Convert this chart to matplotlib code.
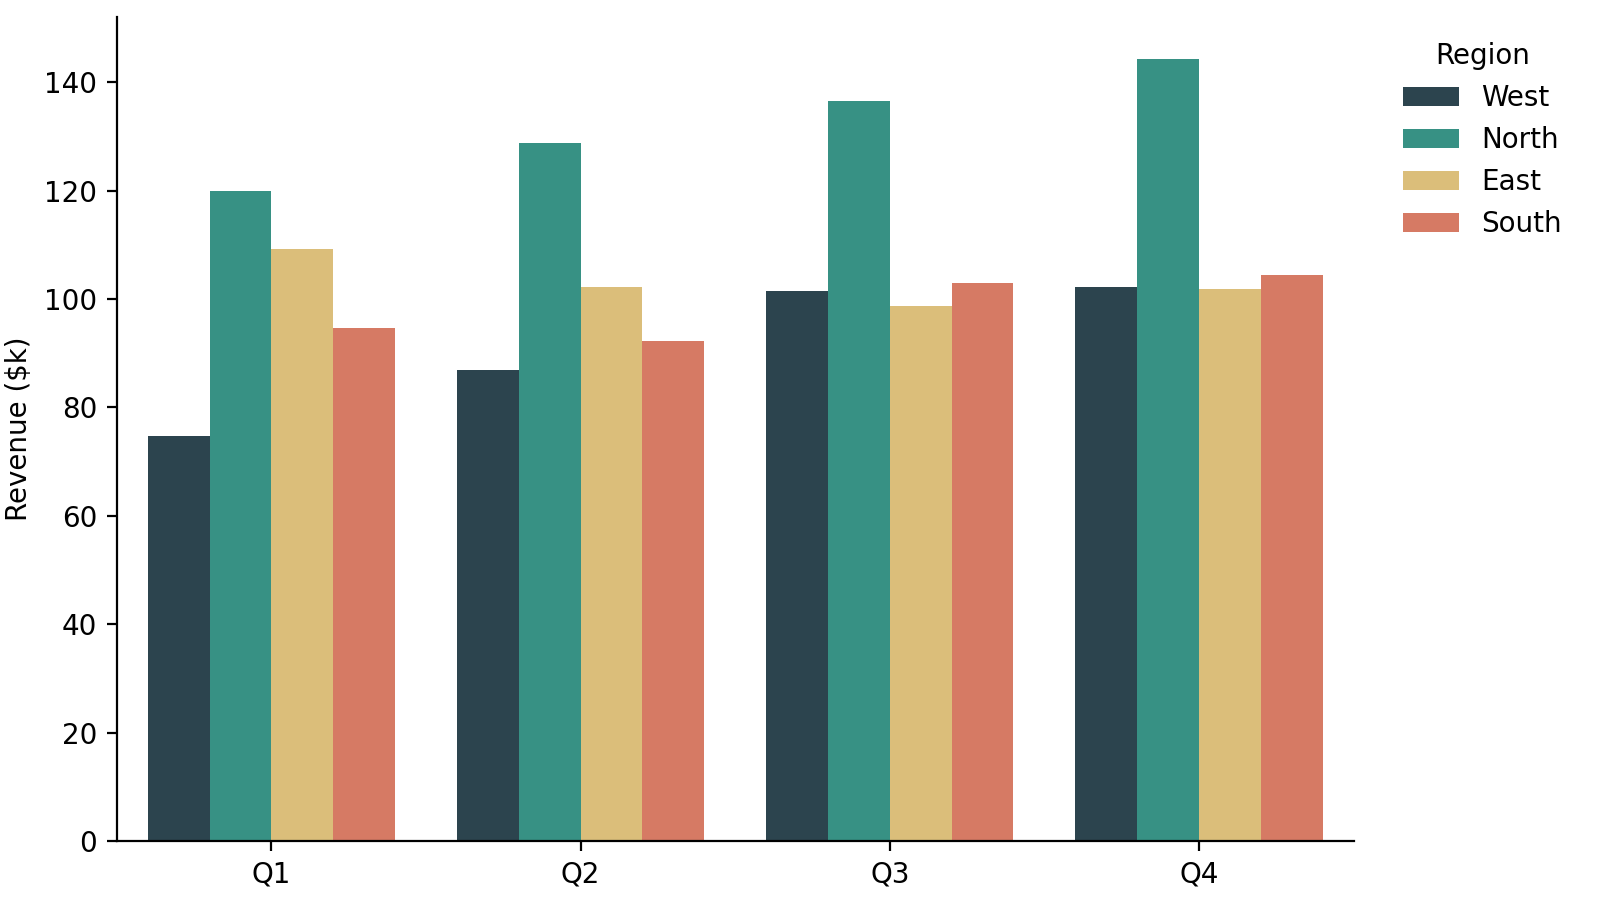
import numpy as np
import matplotlib
matplotlib.use("Agg")
import matplotlib.pyplot as plt

quarters = ["Q1", "Q2", "Q3", "Q4"]
regions = ["West", "North", "East", "South"]
west = [74.8, 86.9, 101.5, 102.2]
north = [119.9, 128.9, 136.5, 144.4]
east = [109.2, 102.2, 98.7, 101.8]
south = [94.7, 92.3, 102.9, 104.4]
colors = ["#2c444e", "#379184", "#dbbe7a", "#d67a64"]

fig = plt.figure(figsize=(8, 4.59), dpi=200)
ax = fig.add_axes([0.073, 0.084, 0.773, 0.897])

x = np.arange(len(quarters))
w = 0.2
for i, (name, vals) in enumerate(zip(regions, [west, north, east, south])):
    ax.bar(x + (i - 1.5) * w, vals, w, color=colors[i], label=name)

ax.set_xticks(x)
ax.set_xticklabels(quarters)
ax.set_ylabel("Revenue ($k)")
ax.set_xlim(-0.5, 3.5)
ax.set_ylim(0, 152)
ax.spines["top"].set_visible(False)
ax.spines["right"].set_visible(False)
ax.legend(title="Region", frameon=False, loc="upper left", bbox_to_anchor=(1.02, 1.0))

fig.savefig("out.png", dpi=200)
